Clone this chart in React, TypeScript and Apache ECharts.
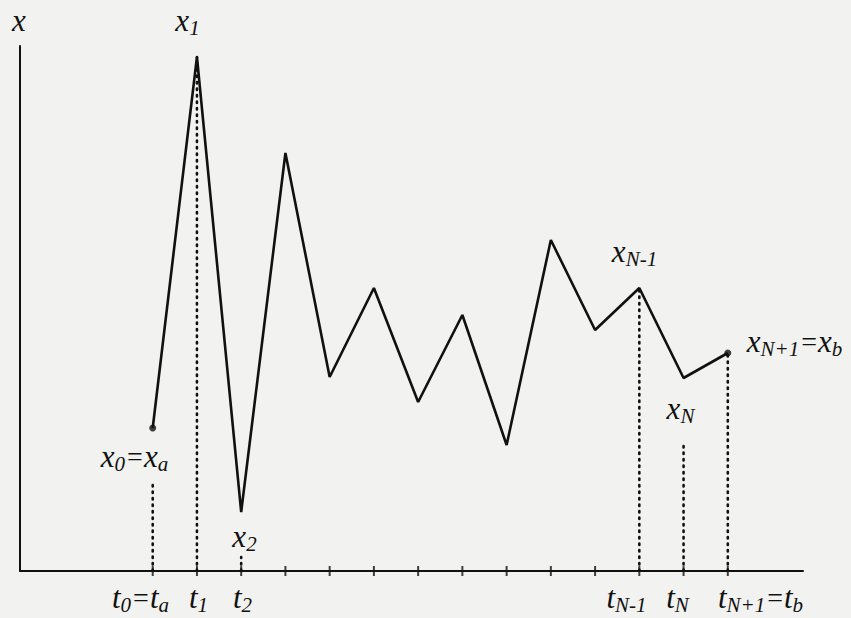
import React, { useEffect, useRef } from "react";
import * as echarts from "echarts";

// knot indices t0 .. t_{N+1}
const knotIndex = [0, 1, 2, 3, 4, 5, 6, 7, 8, 9, 10, 11, 12, 13];
// path values x(t) at each knot (arbitrary units, axis at 0)
const pathValues = [143, 514, 59, 418, 194, 283, 169, 256, 126, 331, 241, 283, 193, 218];
// dotted guides: knot index and top of the dotted segment
const guideIndex = [0, 1, 2, 11, 12, 13];
const guideTop = [91, 514, 14, 283, 129, 218];
// endpoints with a dot
const endpointIndex = [0, 13];

const FAMILY = "Liberation Serif";

// piece kinds: m = main italic letter, s = subscript, e = equals sign
const STYLES: Record<string, { size: number; italic: boolean; dy: number; padL: number; padR: number }> = {
  m: { size: 31, italic: true, dy: 0, padL: 0, padR: 0 },
  s: { size: 21, italic: true, dy: 8, padL: 0, padR: 1 },
  e: { size: 28, italic: false, dy: 0, padL: 1, padR: 1 },
};

// labels: pieces [kind, text] and centre position (px)
const labelTexts: [string, string][][] = [
  [["m", "x"]],
  [["m", "x"], ["s", "1"]],
  [["m", "x"], ["s", "0"], ["e", "="], ["m", "x"], ["s", "a"]],
  [["m", "x"], ["s", "2"]],
  [["m", "x"], ["s", "N-1"]],
  [["m", "x"], ["s", "N"]],
  [["m", "x"], ["s", "N+1"], ["e", "="], ["m", "x"], ["s", "b"]],
  [["m", "t"], ["s", "0"], ["e", "="], ["m", "t"], ["s", "a"]],
  [["m", "t"], ["s", "1"]],
  [["m", "t"], ["s", "2"]],
  [["m", "t"], ["s", "N-1"]],
  [["m", "t"], ["s", "N"]],
  [["m", "t"], ["s", "N+1"], ["e", "="], ["m", "t"], ["s", "b"]],
];
const labelX = [19, 188, 135, 245, 635, 681, 795, 141, 199, 243, 627, 678, 761];
const labelY = [20, 20, 456, 536, 251, 408, 341, 597, 597, 597, 597, 597, 597];

function fontOf(kind: string) {
  const st = STYLES[kind];
  return `${st.italic ? "italic " : ""}${st.size}px '${FAMILY}'`;
}

function buildLabelGraphics() {
  const ctx = document.createElement("canvas").getContext("2d")!;
  const out: any[] = [];
  labelTexts.forEach((pieces, li) => {
    const widths = pieces.map(([k, t]) => {
      ctx.font = fontOf(k);
      return ctx.measureText(t).width + STYLES[k].padL + STYLES[k].padR;
    });
    const total = widths.reduce((a, b) => a + b, 0);
    let cx = labelX[li] - total / 2;
    pieces.forEach(([k, t], pi) => {
      const st = STYLES[k];
      out.push({
        type: "text",
        x: cx + st.padL,
        y: labelY[li] + st.dy,
        z: 10,
        silent: true,
        style: {
          text: t,
          fontSize: st.size,
          fontStyle: st.italic ? "italic" : "normal",
          fontFamily: FAMILY,
          fill: "#111",
          align: "left",
          verticalAlign: "middle",
        },
      });
      cx += widths[pi];
    });
  });
  return out;
}

export default function App() {
  const ref = useRef<HTMLDivElement>(null);
  useEffect(() => {
    document.body.style.margin = "0";
    const chart = echarts.init(ref.current!, null, { renderer: "svg" });
    const guideSeries = guideIndex.map((i, k) => ({
      type: "line",
      data: [
        [i, 0],
        [i, guideTop[k]],
      ],
      showSymbol: false,
      silent: true,
      lineStyle: { color: "#111", width: 2.6, type: [1.5, 5], cap: "round" },
      z: 1,
    }));
    chart.setOption({
      animation: false,
      backgroundColor: "#f2f2f0",
      grid: { left: 20, top: 46, width: 783, height: 525 },
      xAxis: {
        type: "value",
        min: -3,
        max: 14.7,
        axisLine: { show: true, onZero: false, lineStyle: { color: "#111", width: 2 } },
        axisTick: { show: false },
        axisLabel: { show: false },
        splitLine: { show: false },
      },
      yAxis: {
        type: "value",
        min: 0,
        max: 525,
        axisLine: { show: true, onZero: false, lineStyle: { color: "#111", width: 2 } },
        axisTick: { show: false },
        axisLabel: { show: false },
        splitLine: { show: false },
      },
      series: [
        ...guideSeries,
        {
          type: "scatter",
          data: knotIndex.map((i) => [i, 0]),
          symbol: "rect",
          symbolSize: [2, 10],
          itemStyle: { color: "#111" },
          silent: true,
          clip: false,
          z: 3,
        },
        {
          type: "line",
          data: knotIndex.map((i, k) => [i, pathValues[k]]),
          showSymbol: false,
          lineStyle: { color: "#111", width: 2.6 },
          z: 4,
        },
        {
          type: "scatter",
          data: endpointIndex.map((i) => [i, pathValues[i]]),
          symbol: "circle",
          symbolSize: 7,
          itemStyle: { color: "#111" },
          z: 5,
        },
      ],
      graphic: buildLabelGraphics(),
    });
    return () => chart.dispose();
  }, []);
  return <div ref={ref} style={{ width: 851, height: 618 }} />;
}
